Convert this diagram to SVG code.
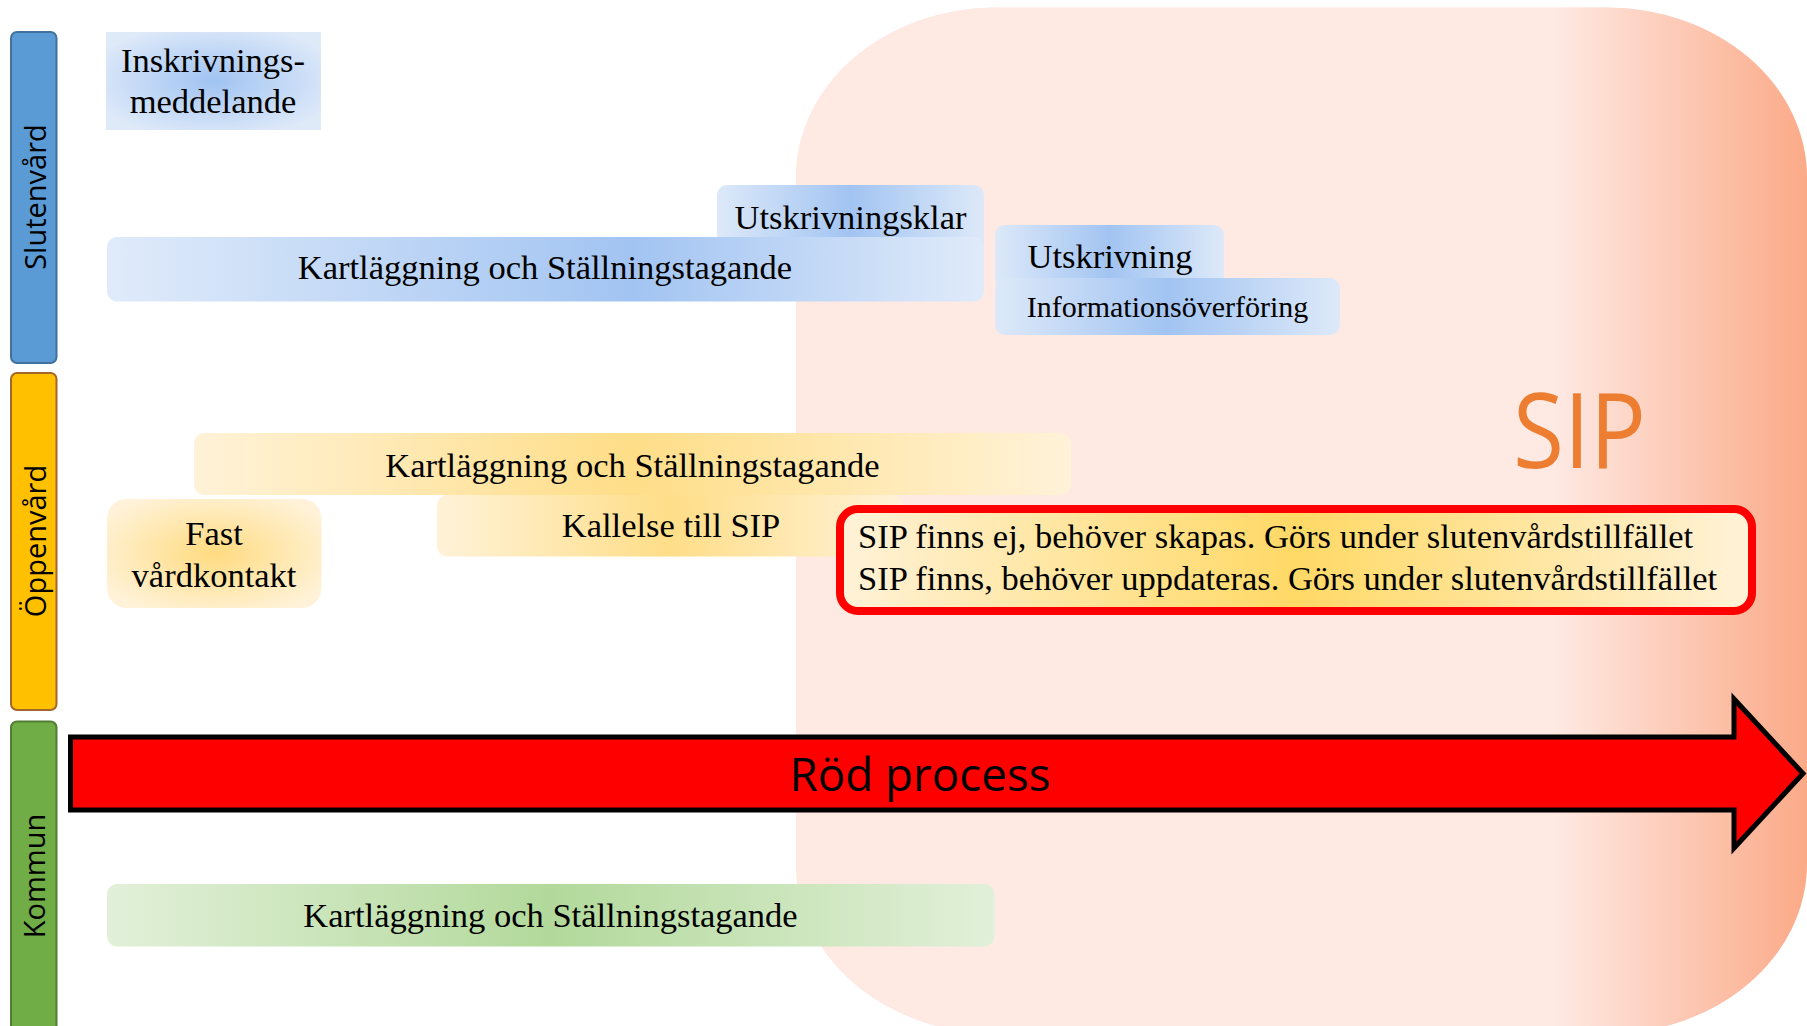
<svg xmlns="http://www.w3.org/2000/svg" width="1807" height="1026" viewBox="0 0 1807 1026">
<style>
.t{font-family:"Liberation Serif","Times New Roman",serif;font-size:34.5px;fill:#000}
.ts{font-size:30px}
.lane{font-family:"Open Sans","DejaVu Sans",sans-serif;font-size:29px;fill:#000}
</style>
<defs>
<linearGradient id="sipBg" gradientUnits="userSpaceOnUse" x1="1555" y1="0" x2="1807" y2="0">
<stop offset="0" stop-color="#FEE9E3"/><stop offset="1" stop-color="#FBAA88"/>
</linearGradient>
<linearGradient id="blueL" x1="0" y1="0" x2="1" y2="0">
<stop offset="0" stop-color="#E0EBFA"/><stop offset="0.6" stop-color="#A2C4F2"/><stop offset="1" stop-color="#E0EBFA"/>
</linearGradient>
<linearGradient id="blueC" x1="0" y1="0" x2="1" y2="0">
<stop offset="0" stop-color="#DDE9F9"/><stop offset="0.5" stop-color="#A2C4F2"/><stop offset="1" stop-color="#DDE9F9"/>
</linearGradient>
<radialGradient id="blueR" cx="0.5" cy="0.5" r="0.6">
<stop offset="0" stop-color="#A0C3F2"/><stop offset="1" stop-color="#DFEAF9"/>
</radialGradient>
<linearGradient id="orL" x1="0" y1="0" x2="1" y2="0">
<stop offset="0" stop-color="#FFF2D8"/><stop offset="0.5" stop-color="#FFDE88"/><stop offset="1" stop-color="#FFF2D8"/>
</linearGradient>
<radialGradient id="orR" cx="0.5" cy="0.5" r="0.6">
<stop offset="0" stop-color="#FFDB80"/><stop offset="1" stop-color="#FFF2D8"/>
</radialGradient>
<linearGradient id="redFill" x1="0" y1="0" x2="1" y2="0">
<stop offset="0" stop-color="#FFF2D8"/><stop offset="0.5" stop-color="#FFD966"/><stop offset="1" stop-color="#FFF2D8"/>
</linearGradient>
<linearGradient id="grL" x1="0" y1="0" x2="1" y2="0">
<stop offset="0" stop-color="#E2F0D9"/><stop offset="0.5" stop-color="#B2D99B"/><stop offset="1" stop-color="#E2F0D9"/>
</linearGradient>
</defs>

<g id="sip-area">
<path d="M996,7.5 H1607 A200,170 0 0 1 1807,177.5 V863.6 A200,170 0 0 1 1607,1033.6 H996 A200,170 0 0 1 796,863.6 V177.5 A200,170 0 0 1 996,7.5 Z" fill="#FEE9E3"/>
<path d="M996,7.5 H1607 A200,170 0 0 1 1807,177.5 V863.6 A200,170 0 0 1 1607,1033.6 H996 A200,170 0 0 1 796,863.6 V177.5 A200,170 0 0 1 996,7.5 Z" fill="url(#sipBg)"/>
<text x="1513" y="468" font-family="'Open Sans','DejaVu Sans',sans-serif" font-size="105" fill="#ED7D31" textLength="133" lengthAdjust="spacingAndGlyphs">SIP</text>
</g>

<g id="lane-slutenvard">
<rect x="11" y="32" width="45.5" height="331" rx="6" fill="#5B9BD5" stroke="#41719C" stroke-width="2"/>
<text class="lane" transform="translate(46,197) rotate(-90)" text-anchor="middle">Slutenvård</text>
</g>
<g id="lane-oppenvard">
<rect x="11" y="373" width="45.5" height="337" rx="6" fill="#FFC000" stroke="#A5662A" stroke-width="2"/>
<text class="lane" transform="translate(46,541) rotate(-90)" text-anchor="middle">Öppenvård</text>
</g>
<g id="lane-kommun">
<rect x="11" y="721.5" width="45.5" height="320" rx="6" fill="#70AD47" stroke="#507E32" stroke-width="2"/>
<text class="lane" transform="translate(45,876) rotate(-90)" text-anchor="middle">Kommun</text>
</g>

<g id="inskrivningsmeddelande">
<rect x="106" y="32" width="215" height="98" fill="url(#blueR)"/>
<text class="t" x="213" y="72" text-anchor="middle">Inskrivnings-</text>
<text class="t" x="213" y="113" text-anchor="middle">meddelande</text>
</g>

<g id="utskrivningsklar">
<rect x="717" y="185" width="267" height="70" rx="10" fill="url(#blueC)"/>
<text class="t" x="850.5" y="229" text-anchor="middle">Utskrivningsklar</text>
</g>

<g id="kartlaggning-sluten">
<rect x="107" y="237" width="877" height="64.5" rx="10" fill="url(#blueL)"/>
<text class="t" x="545" y="279" text-anchor="middle">Kartläggning och Ställningstagande</text>
</g>

<g id="utskrivning">
<rect x="995" y="225" width="229" height="65" rx="10" fill="url(#blueC)"/>
<text class="t" x="1110" y="268" text-anchor="middle">Utskrivning</text>
</g>

<g id="informationsoverforing">
<rect x="995" y="278" width="345" height="57" rx="10" fill="url(#blueC)"/>
<text class="t ts" x="1167.5" y="316.5" text-anchor="middle">Informationsöverföring</text>
</g>

<g id="kartlaggning-oppen">
<rect x="194" y="433" width="877" height="62" rx="10" fill="url(#orL)"/>
<text class="t" x="632.5" y="476.5" text-anchor="middle">Kartläggning och Ställningstagande</text>
</g>

<g id="fast-vardkontakt">
<rect x="107" y="499" width="214.5" height="109" rx="20" fill="url(#orR)"/>
<text class="t" x="214" y="545" text-anchor="middle">Fast</text>
<text class="t" x="214" y="586.5" text-anchor="middle">vårdkontakt</text>
</g>

<g id="kallelse">
<rect x="437" y="495" width="466" height="61.5" rx="10" fill="url(#orL)"/>
<text class="t" x="671" y="536.5" text-anchor="middle">Kallelse till SIP</text>
</g>

<g id="sip-status">
<rect x="840" y="509" width="912" height="102" rx="18" fill="url(#redFill)" stroke="#FF0000" stroke-width="8"/>
<text class="t" x="858" y="548.3">SIP finns ej, behöver skapas. Görs under slutenvårdstillfället</text>
<text class="t" x="858" y="590">SIP finns, behöver uppdateras. Görs under slutenvårdstillfället</text>
</g>

<g id="rod-process">
<polygon points="70.5,737 1734,737 1734,699 1803,773.5 1734,848 1734,810 70.5,810" fill="#FF0000" stroke="#000" stroke-width="5" stroke-linejoin="miter"/>
<text x="789.5" y="790.5" font-family="'Open Sans','DejaVu Sans',sans-serif" font-size="46" fill="#000" textLength="261" lengthAdjust="spacingAndGlyphs">Röd process</text>
</g>

<g id="kartlaggning-kommun">
<rect x="107" y="884" width="887.5" height="62.5" rx="10" fill="url(#grL)"/>
<text class="t" x="550.5" y="926.5" text-anchor="middle">Kartläggning och Ställningstagande</text>
</g>

<g id="connectors"/>
</svg>
